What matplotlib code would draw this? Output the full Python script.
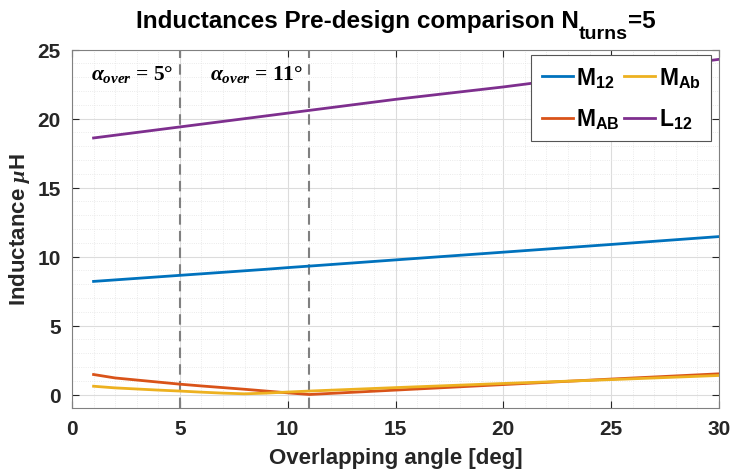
import numpy as np
import matplotlib.pyplot as plt

plt.rcParams['font.family'] = ['Liberation Sans', 'DejaVu Sans']
plt.rcParams['mathtext.fontset'] = 'custom'
plt.rcParams['mathtext.rm'] = 'Liberation Serif:bold'
plt.rcParams['mathtext.it'] = 'Liberation Serif:bold:italic'
plt.rcParams['mathtext.sf'] = 'Liberation Sans:bold'

# overlapping angle [deg]
angle = [1, 2, 3, 4, 5, 6, 7, 8, 9, 10, 11, 15, 20, 25, 30]

# inductances [uH]
M12 = [8.2, 8.31, 8.42, 8.53, 8.64, 8.75, 8.86, 8.97, 9.08, 9.2, 9.31, 9.76, 10.32, 10.88, 11.45]
M_Ab = [0.6, 0.48, 0.4, 0.32, 0.25, 0.17, 0.1, 0.05, 0.1, 0.18, 0.25, 0.5, 0.8, 1.08, 1.38]
M_AB = [1.45, 1.2, 1.05, 0.9, 0.75, 0.62, 0.5, 0.38, 0.25, 0.12, 0.0, 0.32, 0.72, 1.12, 1.5]
L12 = [18.6, 18.8, 19.0, 19.2, 19.4, 19.6, 19.8, 20.0, 20.2, 20.4, 20.6, 21.4, 22.3, 23.3, 24.3]

markers_deg = [5, 11]

W, H = 733, 477
fig = plt.figure(figsize=(W / 100, H / 100), dpi=100)
ax = fig.add_axes([72 / W, 1 - 409.3 / H, 647 / W, 358.6 / H])

l1, = ax.plot(angle, M12, color='#0072BD', lw=2, label=r'M$_{\mathsf{12}}$')
l2, = ax.plot(angle, M_AB, color='#D95319', lw=2, label=r'M$_{\mathsf{AB}}$')
l3, = ax.plot(angle, M_Ab, color='#EDB120', lw=2, label=r'M$_{\mathsf{Ab}}$')
l4, = ax.plot(angle, L12, color='#7E2F8E', lw=2, label=r'L$_{\mathsf{12}}$')

for d in markers_deg:
    ax.axvline(d, color='#808080', ls=(0, (5, 3)), lw=1.5, zorder=1)
    ax.text(d - 0.3, 23.3, r'$\alpha_{over}$ = %d°' % d, fontsize=15.5,
            fontfamily='Liberation Serif', fontweight='bold', va='center', ha='right')

ax.set_xlim(0, 30)
ax.set_ylim(-1, 25)
ax.set_xticks(np.arange(0, 31, 5))
ax.set_yticks(np.arange(0, 26, 5))
ax.set_xticks(np.arange(0, 31, 1), minor=True)
ax.set_yticks(np.arange(-1, 26, 1), minor=True)
ax.grid(which='major', color='#dcdcdc', lw=0.8)
ax.grid(which='minor', color='#e4e4e4', lw=0.6, ls=':')
ax.set_axisbelow(True)
ax.tick_params(which='both', direction='in', top=True, right=True,
               labelsize=15, colors='#262626', pad=8)
ax.tick_params(which='minor', length=0)
ax.tick_params(which='major', length=5)
for lab in ax.get_xticklabels() + ax.get_yticklabels():
    lab.set_fontweight('bold')
for s in ax.spines.values():
    s.set_color('#808080')

ax.set_xlabel('Overlapping angle [deg]', fontsize=16, fontweight='bold', color='#262626', labelpad=6)
ax.set_ylabel(r'Inductance $\mu$H', fontsize=16, fontweight='bold', color='#262626', labelpad=4)

# title with a MATLAB-like (large) subscript
r = fig.canvas.get_renderer()
parts = [('Inductances Pre-design comparison N', 17.5, 1 - 28 / H),
         ('turns', 14, 1 - 39 / H),
         ('=5', 17.5, 1 - 28 / H)]
texts = [fig.text(0, yy, s, fontsize=fs, fontweight='bold', va='baseline')
         for s, fs, yy in parts]
widths = [t.get_window_extent(r).width for t in texts]
x0 = (72 + 719) / 2 - sum(widths) / 2
for t, w in zip(texts, widths):
    t.set_x(x0 / W)
    x0 += w

leg = ax.legend(handles=[l1, l2, l3, l4], ncol=2, loc='upper right',
                bbox_to_anchor=((711 - 72) / 647, (409.3 - 56) / 358.6),
                prop={'weight': 'bold', 'size': 16.5},
                fancybox=False, framealpha=1, edgecolor='#555555', borderaxespad=0,
                handlelength=1.35, handletextpad=0.15, columnspacing=0.2,
                labelspacing=0.75, borderpad=0.45)
leg.get_frame().set_linewidth(0.8)

fig.savefig('out.png', dpi=100)
